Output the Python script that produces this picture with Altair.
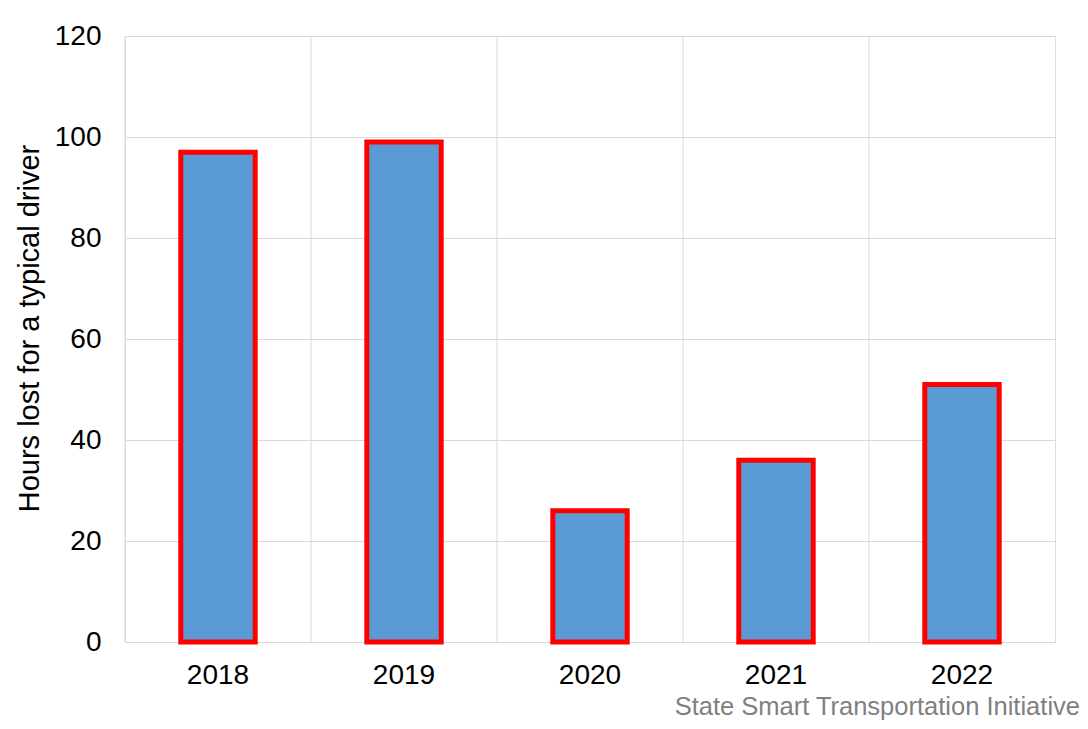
import altair as alt
import pandas as pd

years = ["2018", "2019", "2020", "2021", "2022"]
hours = [97, 99, 26, 36, 51]

df = pd.DataFrame({"year": years, "hours": hours})

FONT = "Liberation Sans"

xscale = alt.Scale(paddingInner=0, paddingOuter=0)
xaxis = alt.Axis(
    title=None, grid=False, ticks=False, domain=False,
    labelAngle=0, labelFont=FONT, labelFontSize=28,
    labelColor="#000000", labelPadding=19,
)

grid = alt.Chart(df).mark_rule(color="#d9d9d9", strokeWidth=1).encode(
    x=alt.X("year:N", bandPosition=0, scale=xscale, axis=xaxis)
)

bars = alt.Chart(df).mark_bar(
    width=alt.RelativeBandSize(0.4),
    color="#5b9bd5",
    stroke="#ff0000",
    strokeWidth=5,
).encode(
    x=alt.X("year:N", scale=xscale, axis=xaxis),
    y=alt.Y(
        "hours:Q",
        scale=alt.Scale(domain=[0, 120]),
        axis=alt.Axis(
            title="Hours lost for a typical driver",
            titleFont=FONT, titleFontSize=29, titleFontWeight="normal",
            titleColor="#000000", titlePadding=10, titleY=292,
            values=[0, 20, 40, 60, 80, 100, 120],
            grid=True, gridColor="#d9d9d9", gridWidth=1,
            ticks=False, domain=False,
            labelFont=FONT, labelFontSize=28, labelColor="#000000",
            labelPadding=24,
        ),
    ),
)

chart = (
    alt.layer(grid, bars)
    .properties(
        width=930,
        height=606,
        autosize=alt.AutoSizeParams(type="none"),
        padding={"left": 117, "top": 28, "right": 25, "bottom": 79},
        title=alt.TitleParams(
            "State Smart Transportation Initiative",
            orient="bottom", anchor="end", font=FONT, fontSize=25.5,
            fontWeight="normal", color="#808080", offset=6, dx=25,
        ),
    )
    .configure_view(stroke="#d9d9d9", strokeWidth=1)
    .configure(background="white")
)

chart.save("out.html", embed_options={"renderer": "svg", "actions": False})
